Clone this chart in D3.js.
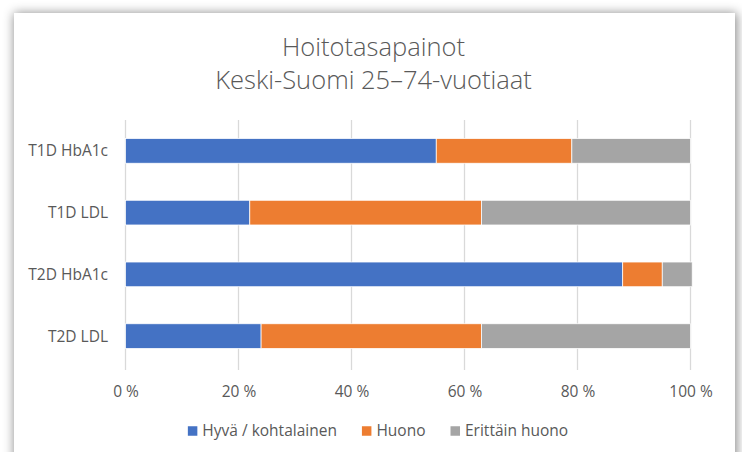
<!DOCTYPE html>
<html>
<head>
<meta charset="utf-8">
<script src="https://cdn.jsdelivr.net/npm/d3@7"></script>
<style>
  html, body { margin: 0; padding: 0; background: #fff; }
  body { width: 742px; height: 452px; overflow: hidden; position: relative; }
  #card {
    position: absolute; left: 14px; top: 13px; width: 721px; height: 470px;
    background: #fff; box-shadow: 1px 1px 10px 1px rgba(0,0,0,0.45);
  }
  svg { position: absolute; left: 0; top: 0; }
  text { font-family: "Open Sans", sans-serif; fill: #595959; }
</style>
</head>
<body>
<div id="card"></div>
<svg id="chart" width="742" height="452"></svg>
<script>
const categories = ['T1D HbA1c', 'T1D LDL', 'T2D HbA1c', 'T2D LDL']
const seriesNames = ['Hyvä / kohtalainen', 'Huono', 'Erittäin huono']
const hyva = [55, 22, 88, 24]
const huono = [24, 41, 7, 39]
const erittain = [21, 37, 5.3, 37]
const colors = ['#4472C4', '#ED7D31', '#A5A5A5']
const xTicks = [0, 20, 40, 60, 80, 100]

const rows = categories.map((c, i) => ({
  cat: c, s0: hyva[i], s1: huono[i], s2: erittain[i]
}))

const svg = d3.select('#chart')

const plot = {left: 125.5, right: 690.5, top: 120, bottom: 367}

const x = d3.scaleLinear().domain([0, 100]).range([plot.left, plot.right])
const y = d3.scaleBand().domain(categories).range([plot.top, plot.bottom]).paddingInner(0.6).paddingOuter(0.3)

// title
const title = svg.append('text')
  .attr('text-anchor', 'middle')
  .style('font-size', '25.5px')
  .style('font-weight', 300)
title.append('tspan').attr('x', 373.5).attr('y', 56).text('Hoitotasapainot')
title.append('tspan').attr('x', 373.5).attr('y', 89).text('Keski-Suomi 25–74-vuotiaat')

// gridlines
svg.append('g')
  .selectAll('line')
  .data(xTicks)
  .join('line')
  .attr('x1', d => x(d)).attr('x2', d => x(d))
  .attr('y1', plot.top).attr('y2', plot.bottom + 3)
  .attr('stroke', '#D9D9D9')
  .attr('stroke-width', 1.3)

// bars
const stack = d3.stack().keys(['s0', 's1', 's2'])
const layers = stack(rows)

svg.append('g')
  .selectAll('g')
  .data(layers)
  .join('g')
  .attr('fill', (d, i) => colors[i])
  .selectAll('rect')
  .data(d => d)
  .join('rect')
  .attr('x', d => x(d[0]))
  .attr('width', d => x(d[1]) - x(d[0]))
  .attr('y', d => y(d.data.cat))
  .attr('height', y.bandwidth())
  .attr('stroke', '#fff')
  .attr('stroke-width', 0.75)

// category labels
svg.append('g')
  .selectAll('text')
  .data(categories)
  .join('text')
  .attr('x', 108)
  .attr('y', d => y(d) + y.bandwidth() / 2)
  .attr('dy', '0.35em')
  .attr('text-anchor', 'end')
  .style('font-size', '15.5px')
  .text(d => d)

// x axis
const xAxis = d3.axisBottom(x).tickValues(xTicks).tickSize(0).tickFormat(d => d + ' %')
const gx = svg.append('g')
  .attr('transform', `translate(0, ${plot.bottom + 16})`)
  .call(xAxis)
gx.select('.domain').remove()
gx.selectAll('text')
  .style('font-family', '"Open Sans", sans-serif')
  .style('font-size', '15.5px')
  .attr('fill', '#595959')

// legend
const legend = svg.append('g')
const items = legend.selectAll('g')
  .data(seriesNames)
  .join('g')
items.append('rect')
  .attr('width', 9.5).attr('height', 9.5)
  .attr('y', -4.75)
  .attr('fill', (d, i) => colors[i])
items.append('text')
  .attr('x', 14.5)
  .attr('dy', '0.35em')
  .style('font-size', '15.5px')
  .text(d => d)

let offset = 0
const positions = []
items.each(function () {
  positions.push(offset)
  offset += this.getBBox().width + 25
})
const total = offset - 25
const startX = 378 - total / 2
items.attr('transform', (d, i) => `translate(${startX + positions[i]}, 431)`)
</script>
</body>
</html>
